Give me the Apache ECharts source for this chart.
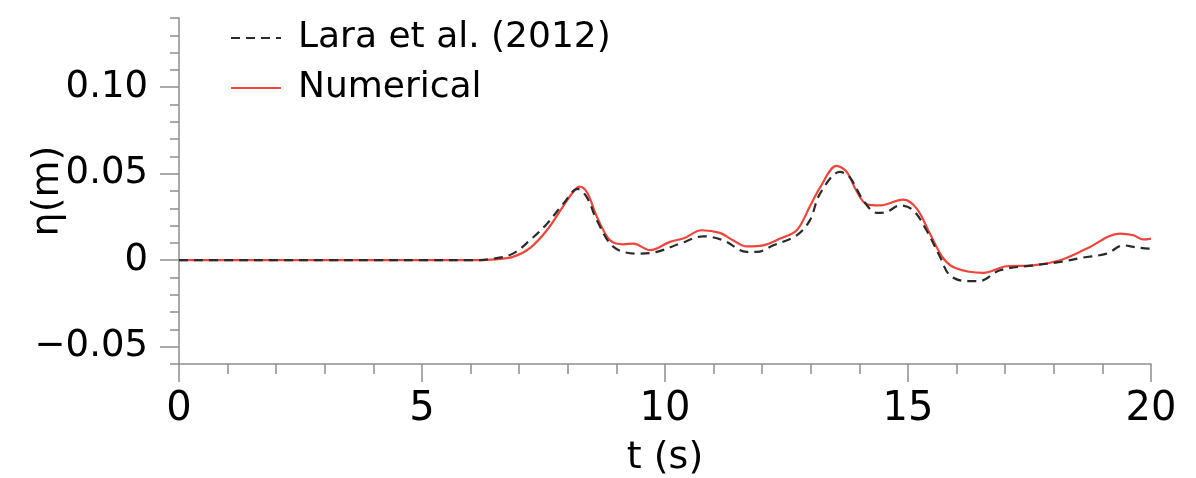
<!DOCTYPE html>
<html>
<head>
<meta charset="utf-8">
<script src="https://cdn.jsdelivr.net/npm/echarts@6/dist/echarts.min.js"></script>
<style>
html,body{margin:0;padding:0;background:#fff;}
#chart{width:1196px;height:478px;}
</style>
</head>
<body>
<div id="chart"></div>
<script>
// Lara et al. (2012) measured surface elevation
const tLara = [0, 1, 2, 3, 4, 5, 6, 6.5, 6.87, 7.22, 7.57, 7.91, 8.2, 8.39, 8.6, 8.94, 9.42, 9.83, 10.31, 10.79, 11.2, 11.68, 11.89, 12.23, 12.71, 12.98, 13.19, 13.6, 13.8, 14.08, 14.36, 14.56, 14.84, 15.11, 15.38, 15.66, 15.86, 16.2, 16.48, 16.89, 17.58, 18.13, 18.6, 19.09, 19.43, 19.64, 19.95, 20];
const etaLara = [0, 0, 0, 0, 0, 0, 0, 0.001, 0.0038, 0.0115, 0.021, 0.0327, 0.0412, 0.0365, 0.023, 0.0077, 0.0038, 0.0048, 0.0096, 0.0138, 0.0115, 0.0048, 0.0048, 0.0086, 0.0144, 0.023, 0.0385, 0.051, 0.048, 0.0346, 0.0273, 0.0279, 0.0317, 0.0288, 0.0173, 0.0019, -0.0087, -0.0121, -0.012, -0.0058, -0.003, -0.001, 0.0015, 0.0038, 0.0086, 0.0077, 0.0067, 0.0067];
// Numerical result
const tNum = [0, 1, 2, 3, 4, 5, 6, 6.5, 6.87, 7.22, 7.57, 7.9, 8.1, 8.24, 8.4, 8.6, 8.87, 9.14, 9.35, 9.69, 10.1, 10.4, 10.75, 11.13, 11.4, 11.68, 12.02, 12.37, 12.71, 12.98, 13.19, 13.53, 13.74, 13.94, 14.15, 14.42, 14.9, 15.18, 15.45, 15.73, 16.0, 16.55, 17.03, 17.58, 18.13, 18.68, 19.36, 19.64, 19.84, 20];
const etaNum = [0, 0, 0, 0, 0, 0, 0, 0.0005, 0.0019, 0.007, 0.0173, 0.031, 0.039, 0.0425, 0.039, 0.025, 0.0115, 0.0092, 0.0096, 0.0058, 0.0106, 0.0128, 0.0173, 0.0158, 0.0115, 0.008, 0.0086, 0.0125, 0.0173, 0.031, 0.042, 0.0545, 0.051, 0.040, 0.0323, 0.0317, 0.035, 0.0298, 0.0154, 0.001, -0.0048, -0.0073, -0.0035, -0.003, 0, 0.0067, 0.0154, 0.0144, 0.012, 0.0125];
// axis ticks
const yMajorValues = [-0.05, 0, 0.05, 0.10];
const yMajorLabels = ['\u22120.05', '0', '0.05', '0.10'];
const seriesNames = ['Lara et al. (2012)', 'Numerical'];

const FONT = 'DejaVu Sans';
const axisGrey = '#8e8e8e';

const laraData = tLara.map((t, i) => [t, etaLara[i]]);
const numData = tNum.map((t, i) => [t, etaNum[i]]);

const chart = echarts.init(document.getElementById('chart'), null, {renderer: 'canvas'});
chart.setOption({
  animation: false,
  backgroundColor: '#fff',
  grid: {left: 179, right: 45, top: 18, bottom: 114, containLabel: false, outerBoundsMode: 'none'},
  legend: {
    data: seriesNames,
    orient: 'vertical',
    left: 230,
    top: 17,
    padding: 0,
    itemGap: 8,
    itemWidth: 50,
    itemHeight: 1,
    itemStyle: {opacity: 0},
    textStyle: {fontFamily: FONT, fontSize: 36, color: '#000', lineHeight: 42, padding: [0, 0, 0, 12]}
  },
  xAxis: {
    type: 'value',
    min: 0, max: 20, interval: 5,
    name: 't (s)',
    nameLocation: 'middle',
    nameGap: 75,
    nameMoveOverlap: false,
    nameTextStyle: {fontFamily: FONT, fontSize: 38, color: '#000'},
    axisLine: {show: true, onZero: false, lineStyle: {color: axisGrey, width: 1.5}},
    axisTick: {show: true, inside: false, length: 18, lineStyle: {color: axisGrey, width: 1.5}},
    minorTick: {show: true, splitNumber: 5, length: 10, lineStyle: {color: axisGrey, width: 1.5}},
    axisLabel: {fontFamily: FONT, fontSize: 40, color: '#000', margin: 26},
    splitLine: {show: false},
    minorSplitLine: {show: false}
  },
  yAxis: [{
    type: 'value',
    min: -0.06, max: 0.14,
    position: 'left',
    name: '\u03b7(m)',
    nameLocation: 'middle',
    nameGap: 112,
    nameMoveOverlap: false,
    nameTextStyle: {fontFamily: FONT, fontSize: 38, color: '#000'},
    axisLine: {show: true, onZero: false, lineStyle: {color: axisGrey, width: 1.5}},
    axisTick: {show: true, inside: false, length: 19, customValues: yMajorValues, lineStyle: {color: axisGrey, width: 1.5}},
    axisLabel: {
      fontFamily: FONT, fontSize: 37, color: '#000', margin: 31,
      customValues: yMajorValues,
      formatter: function (v) {
        for (let i = 0; i < yMajorValues.length; i++) {
          if (Math.abs(v - yMajorValues[i]) < 1e-9) return yMajorLabels[i];
        }
        return '';
      }
    },
    splitLine: {show: false}
  }, {
    type: 'value',
    min: -0.06, max: 0.14, interval: 0.01,
    position: 'left',
    axisLine: {show: false, onZero: false},
    axisTick: {show: true, inside: false, length: 9, lineStyle: {color: axisGrey, width: 1.5}},
    axisLabel: {show: false},
    splitLine: {show: false}
  }],
  series: [{
    name: seriesNames[1],
    type: 'line',
    yAxisIndex: 0,
    data: numData,
    smooth: 0.35,
    symbol: 'none',
    showSymbol: false,
    lineStyle: {color: '#f0453a', width: 2.2},
    itemStyle: {color: '#f0453a'},
    z: 2
  }, {
    name: seriesNames[0],
    type: 'line',
    yAxisIndex: 0,
    data: laraData,
    smooth: 0.35,
    symbol: 'none',
    showSymbol: false,
    lineStyle: {color: '#2a2a2a', width: 2.2, type: [9, 6]},
    itemStyle: {color: '#2a2a2a'},
    z: 3
  }]
});
</script>
</body>
</html>
